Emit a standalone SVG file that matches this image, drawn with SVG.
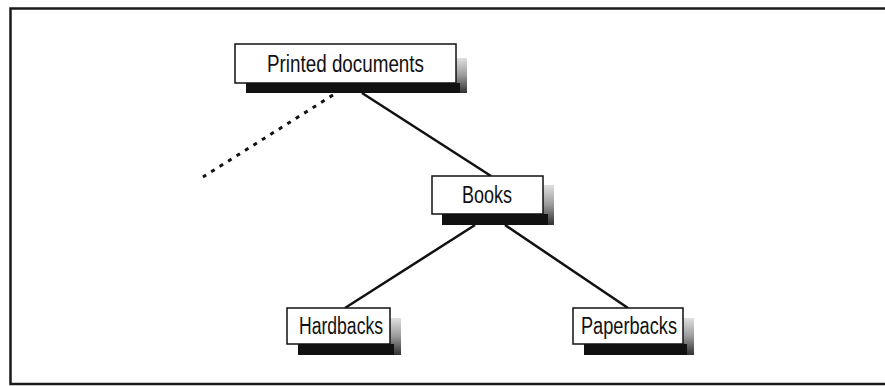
<svg xmlns="http://www.w3.org/2000/svg" width="885" height="386" viewBox="0 0 885 386">
<defs>
<linearGradient id="sg" x1="0" y1="0" x2="0" y2="1">
<stop offset="0" stop-color="#e0e0e0"/>
<stop offset="0.5" stop-color="#9a9a9a"/>
<stop offset="1" stop-color="#303030"/>
</linearGradient>
<style>
.box{fill:#fff;stroke:#111;stroke-width:1.5}
.sh{fill:#111}
.shg{fill:url(#sg)}
.lbl{font-family:"Liberation Sans",Arial,sans-serif;font-size:23.5px;fill:#111;text-anchor:middle}
.ln{stroke:#111;stroke-width:2.5;fill:none}
.dot{stroke:#111;stroke-width:3;fill:none;stroke-dasharray:4 6}
</style>
</defs>
<rect x="0" y="0" width="885" height="386" fill="#fff"/>
<rect x="10.5" y="8.5" width="890" height="375.5" fill="none" stroke="#1a1a1a" stroke-width="2.5"/>
<g id="connectors">
<line class="ln" x1="362" y1="93" x2="491" y2="176"/>
<line class="ln" x1="475" y1="225" x2="345" y2="308"/>
<line class="ln" x1="505" y1="225" x2="628" y2="308"/>
<line class="dot" x1="333" y1="95" x2="203" y2="177"/>
</g>
<g id="printed">
<rect class="shg" x="456" y="58" width="11" height="35"/>
<rect class="sh" x="246" y="83" width="214" height="10"/>
<rect class="box" x="235" y="44" width="221" height="39"/>
<text class="lbl" x="345.5" y="72" textLength="157" lengthAdjust="spacingAndGlyphs">Printed documents</text>
</g>
<g id="books">
<rect class="shg" x="543" y="185" width="11" height="40"/>
<rect class="sh" x="442" y="214" width="106" height="11"/>
<rect class="box" x="432" y="176" width="111" height="38"/>
<text class="lbl" x="487" y="203" textLength="50" lengthAdjust="spacingAndGlyphs">Books</text>
</g>
<g id="hardbacks">
<rect class="shg" x="390" y="318" width="11" height="37"/>
<rect class="sh" x="298" y="344" width="96" height="11"/>
<rect class="box" x="287" y="308" width="103" height="36"/>
<text class="lbl" x="341" y="334" textLength="84" lengthAdjust="spacingAndGlyphs">Hardbacks</text>
</g>
<g id="paperbacks">
<rect class="shg" x="683" y="318" width="11" height="37"/>
<rect class="sh" x="584" y="344" width="103" height="11"/>
<rect class="box" x="573" y="308" width="110" height="36"/>
<text class="lbl" x="629" y="334" textLength="96" lengthAdjust="spacingAndGlyphs">Paperbacks</text>
</g>
</svg>
